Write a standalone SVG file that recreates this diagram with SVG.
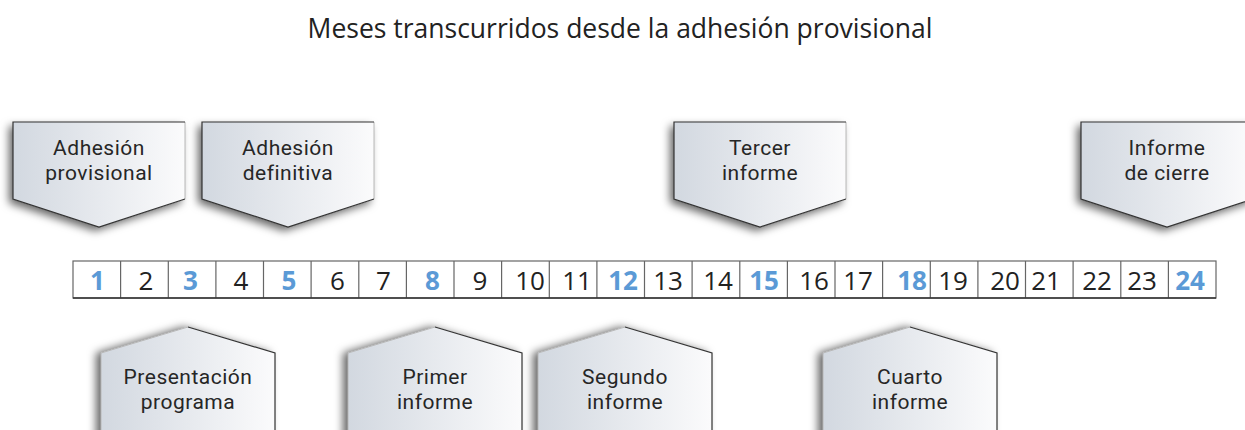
<svg xmlns="http://www.w3.org/2000/svg" width="1245" height="430" viewBox="0 0 1245 430">
<style>
text{font-family:"Open Sans","Noto Sans","Liberation Sans",sans-serif;fill:#222}
.title{font-size:26.5px;text-anchor:middle}
.lbl{font-family:Roboto,"Liberation Sans",sans-serif;font-size:21px;letter-spacing:0.5px;text-anchor:middle;fill:#262626}
.num{font-size:26px;text-anchor:middle}
.hl{fill:#5b9ad6;font-weight:bold}
.edge{fill:none;stroke:#333;stroke-width:1.2}
.faint{fill:none;stroke:#b8b8b8;stroke-width:1}
.cell{fill:#fff;stroke:#666;stroke-width:1.2}
</style>
<defs>
<linearGradient id="g" x1="0" y1="0" x2="1" y2="0">
<stop offset="0" stop-color="#d2d8e0"/>
<stop offset="1" stop-color="#fbfbfc"/>
</linearGradient>
<filter id="sTop" x="-20%" y="-20%" width="140%" height="150%">
<feDropShadow dx="-4" dy="4" stdDeviation="4" flood-color="#000" flood-opacity="0.6"/>
</filter>
<filter id="sBot" x="-20%" y="-20%" width="140%" height="150%">
<feDropShadow dx="-5" dy="0" stdDeviation="4" flood-color="#000" flood-opacity="0.6"/>
</filter>
<path id="down" d="M0,0 H172 V77 L86,105 L0,77 Z"/>
<path id="up" d="M0,26 L87,0 L174,26 V120 H0 Z"/>
</defs>

<text class="title" x="620" y="38">Meses transcurridos desde la adhesión provisional</text>

<g id="n-adhesion-provisional" transform="translate(13,122)">
<use href="#down" fill="url(#g)" filter="url(#sTop)"/>
<path class="faint" d="M172,0 V77"/>
<path class="edge" d="M172,0 H0 V77 L86,105 L172,77"/>
<text class="lbl" x="86" y="33">Adhesión</text>
<text class="lbl" x="86" y="58">provisional</text>
</g>
<g id="n-adhesion-definitiva" transform="translate(202,122)">
<use href="#down" fill="url(#g)" filter="url(#sTop)"/>
<path class="faint" d="M172,0 V77"/>
<path class="edge" d="M172,0 H0 V77 L86,105 L172,77"/>
<text class="lbl" x="86" y="33">Adhesión</text>
<text class="lbl" x="86" y="58">definitiva</text>
</g>
<g id="n-tercer-informe" transform="translate(674,122)">
<use href="#down" fill="url(#g)" filter="url(#sTop)"/>
<path class="faint" d="M172,0 V77"/>
<path class="edge" d="M172,0 H0 V77 L86,105 L172,77"/>
<text class="lbl" x="86" y="33">Tercer</text>
<text class="lbl" x="86" y="58">informe</text>
</g>
<g id="n-informe-cierre" transform="translate(1081,122)">
<use href="#down" fill="url(#g)" filter="url(#sTop)"/>
<path class="edge" d="M172,0 H0 V77 L86,105 L172,77"/>
<text class="lbl" x="86" y="33">Informe</text>
<text class="lbl" x="86" y="58">de cierre</text>
</g>

<g id="timeline">
<rect class="cell" x="73" y="261" width="1143" height="37"/>
<path fill="none" stroke="#666" stroke-width="1.2" d="M120.6,261V298M168.3,261V298M215.9,261V298M263.5,261V298M311.1,261V298M358.8,261V298M406.4,261V298M454,261V298M501.6,261V298M549.3,261V298M596.9,261V298M644.5,261V298M692.1,261V298M739.8,261V298M787.4,261V298M835,261V298M882.6,261V298M930.3,261V298M977.9,261V298M1025.5,261V298M1073.1,261V298M1120.8,261V298M1168.4,261V298"/>
<path fill="none" stroke="#333" stroke-width="1.4" d="M73,298H1216"/>
<text class="num hl" x="97.5" y="290">1</text>
<text class="num" x="146" y="290">2</text>
<text class="num hl" x="190.5" y="290">3</text>
<text class="num" x="241" y="290">4</text>
<text class="num hl" x="289" y="290">5</text>
<text class="num" x="337.5" y="290">6</text>
<text class="num" x="383.5" y="290">7</text>
<text class="num hl" x="432.5" y="290">8</text>
<text class="num" x="480" y="290">9</text>
<text class="num" x="530" y="290">10</text>
<text class="num" x="577" y="290">11</text>
<text class="num hl" x="623" y="290">12</text>
<text class="num" x="668" y="290">13</text>
<text class="num" x="718" y="290">14</text>
<text class="num hl" x="764" y="290">15</text>
<text class="num" x="814" y="290">16</text>
<text class="num" x="858" y="290">17</text>
<text class="num hl" x="912" y="290">18</text>
<text class="num" x="953" y="290">19</text>
<text class="num" x="1005" y="290">20</text>
<text class="num" x="1046" y="290">21</text>
<text class="num" x="1097" y="290">22</text>
<text class="num" x="1142" y="290">23</text>
<text class="num hl" x="1190" y="290">24</text>
</g>

<g id="n-presentacion" transform="translate(101,327)">
<use href="#up" fill="url(#g)" filter="url(#sBot)"/>
<path class="faint" d="M0,120 V26 L87,0"/>
<path class="edge" d="M87,0 L174,26 V120"/>
<text class="lbl" x="87" y="57">Presentación</text>
<text class="lbl" x="87" y="82">programa</text>
</g>
<g id="n-primer-informe" transform="translate(348,327)">
<use href="#up" fill="url(#g)" filter="url(#sBot)"/>
<path class="faint" d="M0,120 V26 L87,0"/>
<path class="edge" d="M87,0 L174,26 V120"/>
<text class="lbl" x="87" y="57">Primer</text>
<text class="lbl" x="87" y="82">informe</text>
</g>
<g id="n-segundo-informe" transform="translate(538,327)">
<use href="#up" fill="url(#g)" filter="url(#sBot)"/>
<path class="faint" d="M0,120 V26 L87,0"/>
<path class="edge" d="M87,0 L174,26 V120"/>
<text class="lbl" x="87" y="57">Segundo</text>
<text class="lbl" x="87" y="82">informe</text>
</g>
<g id="n-cuarto-informe" transform="translate(823,327)">
<use href="#up" fill="url(#g)" filter="url(#sBot)"/>
<path class="faint" d="M0,120 V26 L87,0"/>
<path class="edge" d="M87,0 L174,26 V120"/>
<text class="lbl" x="87" y="57">Cuarto</text>
<text class="lbl" x="87" y="82">informe</text>
</g>
</svg>
